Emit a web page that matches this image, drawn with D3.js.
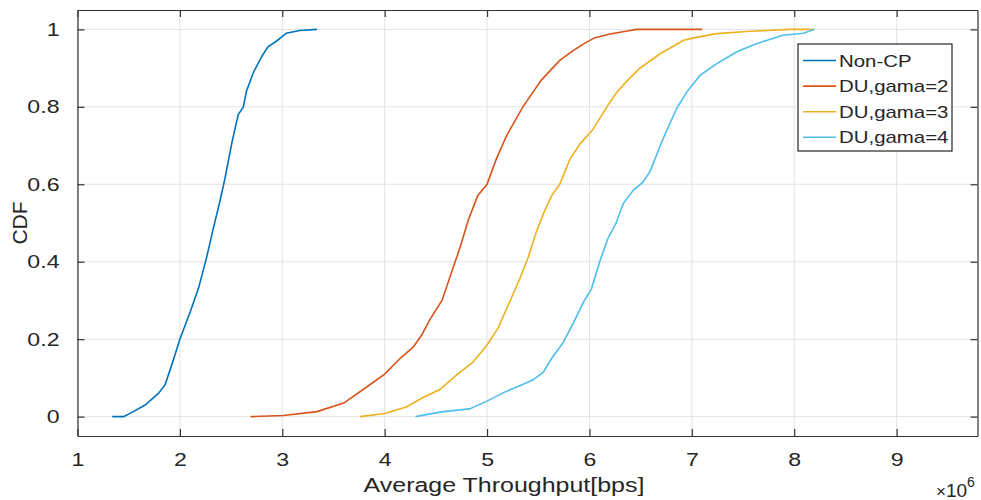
<!DOCTYPE html>
<html>
<head>
<meta charset="utf-8">
<script src="https://d3js.org/d3.v7.min.js"></script>
<style>
  body { margin: 0; background: #fff; }
  text { font-family: "Liberation Sans", Arial, sans-serif; fill: #262626; }
</style>
</head>
<body>
<svg id="chart" width="981" height="500"></svg>
<script>
// throughput in units of 1e6 bps, CDF value
var nonCp = [[1.34,0],[1.45,0],[1.545,0.013],[1.66,0.03],[1.79,0.06],[1.855,0.082],[1.92,0.133],[2.0,0.2],
  [2.10,0.27],[2.18,0.33],[2.26,0.41],[2.33,0.49],[2.39,0.555],[2.44,0.615],[2.51,0.71],[2.57,0.78],
  [2.62,0.80],[2.65,0.84],[2.72,0.89],[2.80,0.93],[2.86,0.955],[2.945,0.97],[3.04,0.99],[3.17,0.997],[3.34,1.0]];
var gama2 = [[2.69,0],[3.01,0.003],[3.34,0.013],[3.60,0.035],[3.79,0.07],[4.0,0.11],[4.15,0.15],[4.28,0.18],
  [4.36,0.21],[4.44,0.25],[4.56,0.30],[4.65,0.37],[4.74,0.44],[4.82,0.51],[4.91,0.571],[5.0,0.60],
  [5.09,0.665],[5.19,0.725],[5.35,0.80],[5.53,0.869],[5.71,0.92],[5.84,0.945],[5.96,0.965],[6.05,0.978],
  [6.20,0.988],[6.40,0.997],[6.46,1.0],[7.10,1.0]];
var gama3 = [[3.76,0],[4.0,0.008],[4.21,0.025],[4.38,0.05],[4.54,0.07],[4.70,0.107],[4.86,0.14],[5.0,0.185],
  [5.11,0.23],[5.22,0.296],[5.32,0.356],[5.40,0.41],[5.48,0.476],[5.56,0.53],[5.63,0.57],[5.71,0.60],
  [5.81,0.665],[5.91,0.705],[6.03,0.74],[6.17,0.80],[6.26,0.835],[6.36,0.865],[6.49,0.899],[6.69,0.937],
  [6.92,0.972],[7.02,0.978],[7.24,0.989],[7.57,0.995],[7.96,1.0],[8.19,1.0]];
var gama4 = [[4.30,0],[4.57,0.013],[4.83,0.02],[5.0,0.04],[5.16,0.062],[5.32,0.08],[5.45,0.095],[5.55,0.115],
  [5.63,0.15],[5.74,0.19],[5.84,0.24],[5.94,0.295],[6.02,0.33],[6.10,0.40],[6.18,0.46],[6.26,0.50],
  [6.33,0.55],[6.43,0.585],[6.52,0.605],[6.59,0.632],[6.72,0.718],[6.85,0.795],[6.95,0.838],[7.08,0.881],
  [7.24,0.911],[7.44,0.942],[7.63,0.963],[7.89,0.985],[8.09,0.99],[8.20,1.0]];

var seriesNames = ["Non-CP", "DU,gama=2", "DU,gama=3", "DU,gama=4"];
var seriesColors = ["#0072BD", "#D95319", "#EDB120", "#4DBEEE"];
var xTicks = [1, 2, 3, 4, 5, 6, 7, 8, 9];
var yTicks = [0, 0.2, 0.4, 0.6, 0.8, 1];

var svg = d3.select("#chart");
var pLeft = 77.5, pRight = 977.5, pTop = 10, pBottom = 436;

// scales
var x = d3.scaleLinear().domain([1, 9.79]).range([pLeft, pRight]);
var y = d3.scaleLinear().domain([-0.05, 1.05]).range([pBottom, pTop]);

// stretch text horizontally (reference is a bit wide)
function widen(sel, k) {
  sel.each(function() {
    var w = this.getComputedTextLength();
    d3.select(this).attr("textLength", w * k).attr("lengthAdjust", "spacingAndGlyphs");
  });
}

// grid
svg.append("g").selectAll("line").data(xTicks).join("line")
    .attr("x1", d => x(d)).attr("x2", d => x(d)).attr("y1", pTop).attr("y2", pBottom)
    .attr("stroke", "#e3e3e3").attr("stroke-width", 1);
svg.append("g").selectAll("line").data(yTicks).join("line")
    .attr("y1", d => y(d)).attr("y2", d => y(d)).attr("x1", pLeft).attr("x2", pRight)
    .attr("stroke", "#e3e3e3").attr("stroke-width", 1);

// lines
var line = d3.line().x(d => x(d[0])).y(d => y(d[1]));
[nonCp, gama2, gama3, gama4].forEach(function(s, i) {
  svg.append("path").datum(s)
      .attr("fill", "none")
      .attr("stroke", seriesColors[i])
      .attr("stroke-width", 1.6)
      .attr("d", line);
});

// axes (ticks inward, all four sides)
var ax = svg.append("g").attr("class", "axes");
var xb = ax.append("g").attr("transform", "translate(0," + pBottom + ")")
    .call(d3.axisBottom(x).tickValues(xTicks).tickSizeInner(-7).tickSizeOuter(0).tickPadding(17));
ax.append("g").attr("transform", "translate(0," + pTop + ")")
    .call(d3.axisTop(x).tickValues(xTicks).tickSizeInner(-7).tickSizeOuter(0).tickFormat(""));
var yl = ax.append("g").attr("transform", "translate(" + pLeft + ",0)")
    .call(d3.axisLeft(y).tickValues(yTicks).tickFormat(d => String(d))
      .tickSizeInner(-7).tickSizeOuter(0).tickPadding(18));
ax.append("g").attr("transform", "translate(" + pRight + ",0)")
    .call(d3.axisRight(y).tickValues(yTicks).tickSizeInner(-7).tickSizeOuter(0).tickFormat(""));
ax.selectAll(".domain").attr("stroke", "#333").attr("stroke-width", 1.2);
ax.selectAll(".tick line").attr("stroke", "#333").attr("stroke-width", 1.2);
ax.selectAll(".tick text").attr("fill", "#262626").style("font-size", "18.5px")
    .style("font-family", "Liberation Sans, Arial, sans-serif");
widen(xb.selectAll(".tick text"), 1.25);
widen(yl.selectAll(".tick text"), 1.25);

// axis labels
var xLabel = svg.append("text")
    .attr("x", 504).attr("y", 492)
    .style("text-anchor", "middle").style("font-size", "19.5px")
    .text("Average Throughput[bps]");
widen(xLabel, 1.28);

svg.append("text")
    .attr("transform", "translate(27,223) rotate(-90)")
    .style("text-anchor", "middle").style("font-size", "21px")
    .text("CDF");

// exponent
var expo = svg.append("text").attr("x", 936).attr("y", 497).style("font-size", "19px");
expo.append("tspan").style("font-size", "17px").text("\u00d7");
expo.append("tspan").text("10");
expo.append("tspan").attr("dy", -10).style("font-size", "14px").text("6");

// legend
var lg = svg.append("g");
lg.append("rect").attr("x", 798).attr("y", 44).attr("width", 154).attr("height", 107)
    .attr("fill", "#fff").attr("stroke", "#262626").attr("stroke-width", 1.2);
seriesNames.forEach(function(name, i) {
  var ly = 60.5 + i * 25.6;
  lg.append("line").attr("x1", 803).attr("x2", 836).attr("y1", ly).attr("y2", ly)
      .attr("stroke", seriesColors[i]).attr("stroke-width", 1.6);
  var t = lg.append("text").attr("x", 839).attr("y", ly + 6).style("font-size", "17px").text(name);
  widen(t, 1.2);
});
</script>
</body>
</html>
